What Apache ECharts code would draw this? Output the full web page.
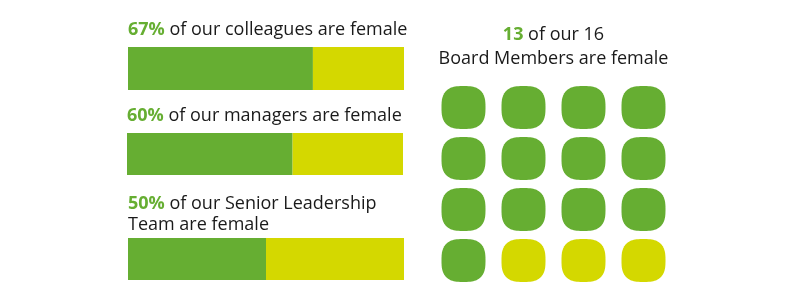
<!DOCTYPE html>
<html><head><meta charset="utf-8">
<script src="https://cdn.jsdelivr.net/npm/echarts@6/dist/echarts.min.js"></script>
<style>html,body{margin:0;padding:0;background:#fff}#c{width:800px;height:300px}</style>
</head><body><div id="c"></div>
<script>
// ---- data ----
var barLabels = ['of our colleagues are female', 'of our managers are female', 'of our Senior Leadership\nTeam are female'];
var femalePct = [67, 60, 50];
var otherPct = [33, 40, 50];
var boardFemale = 13;
var boardTotal = 16;
var boardMembers = ['F','F','F','F','F','F','F','F','F','F','F','F','F','M','M','M'];

// ---- style ----
var GREEN = '#66AE32', YELLOW = '#D4D800', TEXT = '#1a1a1a';
var FONT = 'Open Sans';
var FS = 18;
var barBoxes = [
  {left:128, top:47, height:43, tTop:21},
  {left:127, top:133, height:42, tTop:107},
  {left:128, top:238, height:42, tTop:195}
];
var BAR_W = 276;

function squirclePath(n){
  var pts=[], N=96;
  for(var i=0;i<N;i++){
    var t=i/N*2*Math.PI, c=Math.cos(t), s=Math.sin(t);
    var x=Math.sign(c)*Math.pow(Math.abs(c),2/n), y=Math.sign(s)*Math.pow(Math.abs(s),2/n);
    pts.push((i?'L':'M')+(x*50+50).toFixed(2)+' '+(y*50+50).toFixed(2));
  }
  return 'path://'+pts.join(' ')+'Z';
}
var SQ = squirclePath(2.8);

var grids=[], xAxes=[], yAxes=[], series=[], graphics=[];
femalePct.forEach(function(v,i){
  var b=barBoxes[i];
  grids.push({left:b.left, top:b.top, width:BAR_W, height:b.height});
  xAxes.push({gridIndex:i, type:'value', min:0, max:100, show:false});
  yAxes.push({gridIndex:i, type:'category', data:['x'], show:false});
  series.push({type:'bar', xAxisIndex:i, yAxisIndex:i, stack:'s'+i, data:[femalePct[i]], barWidth:'100%', itemStyle:{color:GREEN}, silent:true});
  series.push({type:'bar', xAxisIndex:i, yAxisIndex:i, stack:'s'+i, data:[otherPct[i]], barWidth:'100%', itemStyle:{color:YELLOW}, silent:true});
  var lines = barLabels[i].split('\n');
  var txt = '{a|'+femalePct[i]+'%}{b| '+lines[0]+'}';
  for(var k=1;k<lines.length;k++) txt += '\n{b|'+lines[k]+'}';
  graphics.push({type:'text', left:b.left, top:b.tTop, style:{text:txt, rich:{
    a:{fill:GREEN, fontWeight:'bold', fontSize:FS, fontFamily:FONT, lineHeight:21},
    b:{fill:TEXT, fontSize:FS, fontFamily:FONT, lineHeight:21}
  }}});
});

// board grid
var gi = grids.length;
grids.push({left:433.5, top:82, width:240, height:204});
xAxes.push({gridIndex:gi, type:'value', min:-0.5, max:3.5, show:false});
yAxes.push({gridIndex:gi, type:'value', min:-0.5, max:3.5, inverse:true, show:false});
series.push({type:'scatter', xAxisIndex:gi, yAxisIndex:gi, symbol:SQ, symbolSize:[44,43], silent:true,
  data: boardMembers.map(function(m,i){return {value:[i%4, Math.floor(i/4)], itemStyle:{color: m==='F'?GREEN:YELLOW, opacity:1}};})
});
graphics.push({type:'text', x:553.5, y:23, style:{
  text:'{a|'+boardFemale+'}{b| of our '+boardTotal+'}\n{b|Board Members are female}',
  align:'center', rich:{
    a:{fill:GREEN, fontWeight:'bold', fontSize:FS, fontFamily:FONT, lineHeight:24, align:'center'},
    b:{fill:TEXT, fontSize:FS, fontFamily:FONT, lineHeight:24, align:'center'}
  }}});

var chart = echarts.init(document.getElementById('c'), null, {renderer:'canvas'});
chart.setOption({animation:false, grid:grids, xAxis:xAxes, yAxis:yAxes, series:series, graphic:graphics});
</script></body></html>
